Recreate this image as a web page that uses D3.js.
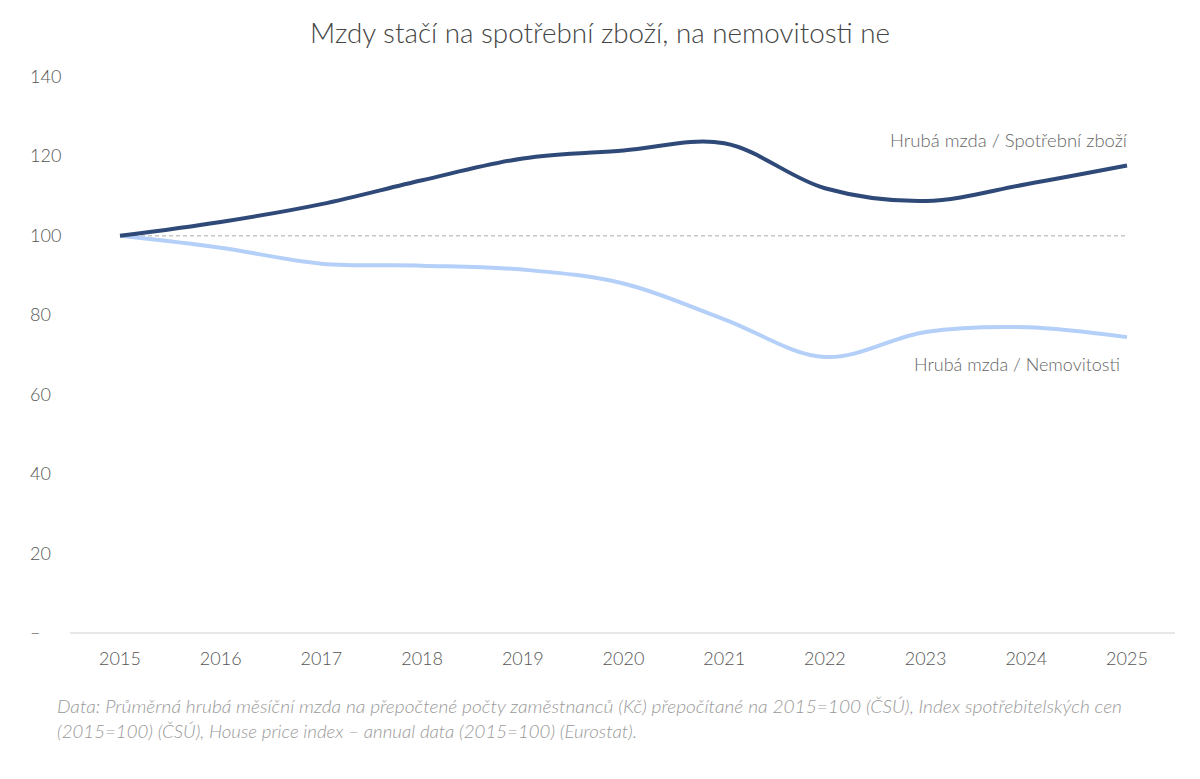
<!DOCTYPE html><html><head><meta charset="utf-8">
<script src="https://cdn.jsdelivr.net/npm/d3@7"></script>
<style>body{margin:0;background:#fff}text{font-family:Lato,"Open Sans",sans-serif;font-weight:300}</style></head><body>
<svg id="c" width="1200" height="779"></svg>
<script>
const years=[2015,2016,2017,2018,2019,2020,2021,2022,2023,2024,2025];
const goods=[100,103.5,108,114,119.5,121.5,123.3,112,108.8,113,117.7];
const homes=[100,97,93,92.5,91.5,88,79,69.5,75.8,77,74.5];
const yTicks=[0,20,40,60,80,100,120,140];
const svg=d3.select("#c");
const x=d3.scaleLinear().domain([2015,2025]).range([120,1127]);
const y=d3.scaleLinear().domain([0,140]).range([633,77]);
svg.append("text").attr("x",310).attr("y",43).attr("font-size",27).attr("fill","#444").attr("textLength",580).attr("lengthAdjust","spacingAndGlyphs").text("Mzdy stačí na spotřební zboží, na nemovitosti ne");
svg.append("line").attr("x1",70).attr("x2",1175).attr("y1",y(0)).attr("y2",y(0)).attr("stroke","#d0d0d0");
svg.append("line").attr("x1",x(2015)).attr("x2",x(2025)).attr("y1",y(100)).attr("y2",y(100)).attr("stroke","#aaa").attr("stroke-dasharray","4,3");
yTicks.forEach(t=>svg.append("text").attr("x",30).attr("y",y(t)+6).attr("font-size",18).attr("fill","#555").attr("text-anchor","start").text(t===0?"–":t));
years.forEach(t=>svg.append("text").attr("x",x(t)).attr("y",665).attr("font-size",18).attr("fill","#555").attr("text-anchor","middle").text(t));
const line=d3.line().x((d,i)=>x(years[i])).y(d=>y(d)).curve(d3.curveCatmullRom.alpha(0.5));
svg.append("path").attr("d",line(homes)).attr("fill","none").attr("stroke","#b4cff8").attr("stroke-width",4);
svg.append("path").attr("d",line(goods)).attr("fill","none").attr("stroke","#2f4a78").attr("stroke-width",4);
svg.append("text").attr("x",890).attr("y",147).attr("font-size",17).attr("fill","#666").attr("textLength",237).attr("lengthAdjust","spacingAndGlyphs").text("Hrubá mzda / Spotřební zboží");
svg.append("text").attr("x",914).attr("y",371).attr("font-size",17).attr("fill","#666").attr("textLength",206).attr("lengthAdjust","spacingAndGlyphs").text("Hrubá mzda / Nemovitosti");
const f=svg.append("g").attr("font-size",17).attr("fill","#999").attr("font-style","italic");
f.append("text").attr("x",57).attr("y",713).attr("textLength",1065).attr("lengthAdjust","spacingAndGlyphs").text("Data: Průměrná hrubá měsíční mzda na přepočtené počty zaměstnanců (Kč) přepočítané na 2015=100 (ČSÚ), Index spotřebitelských cen");
f.append("text").attr("x",57).attr("y",738).attr("textLength",580).attr("lengthAdjust","spacingAndGlyphs").text("(2015=100) (ČSÚ), House price index – annual data (2015=100) (Eurostat).");
</script></body></html>
